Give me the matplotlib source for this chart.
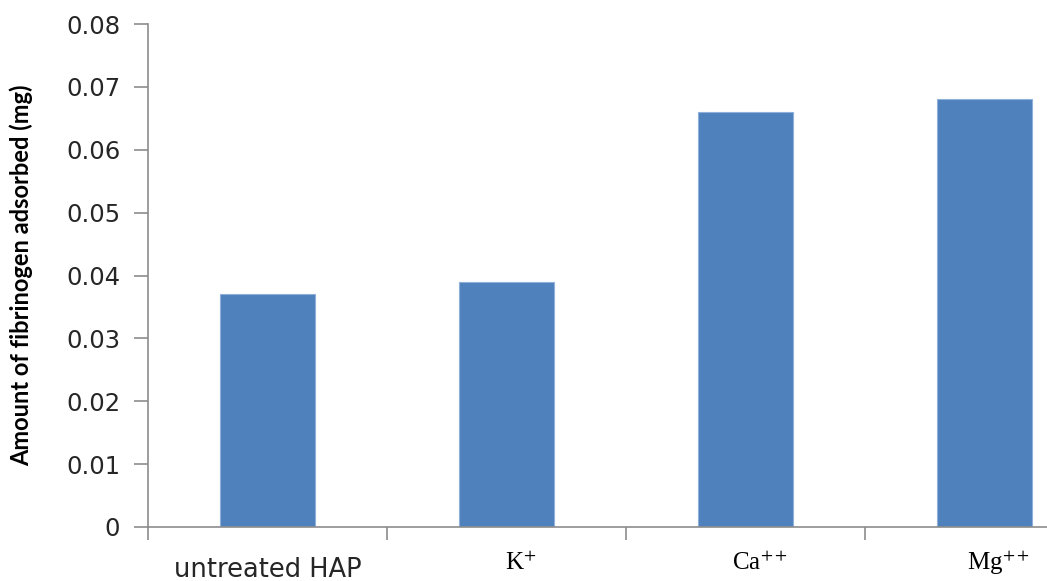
import matplotlib
matplotlib.use('Agg')
import matplotlib.pyplot as plt
import matplotlib.transforms as mtransforms

# adsorbed fibrinogen per surface treatment
categories = ['untreated HAP', 'K$^{+}$', 'Ca$^{++}$', 'Mg$^{++}$']
label_fonts = ['DejaVu Sans', 'Liberation Serif', 'Liberation Serif', 'Liberation Serif']
amounts = [0.037, 0.039, 0.066, 0.068]
yticks = [0, 0.01, 0.02, 0.03, 0.04, 0.05, 0.06, 0.07, 0.08]
ytick_labels = ['0', '0.01', '0.02', '0.03', '0.04', '0.05', '0.06', '0.07', '0.08']

plt.rcParams['mathtext.fontset'] = 'stix'

W, H = 1047, 581
fig = plt.figure(figsize=(W / 100, H / 100), dpi=100)
fig.patch.set_facecolor('white')

# plot area runs past the right edge of the canvas
x0, x1, y0, y1 = 148, 1104, 527, 24
ax = fig.add_axes([x0 / W, (H - y0) / H, (x1 - x0) / W, (y0 - y1) / H])

pos = list(range(len(categories)))
ax.bar(pos, amounts, width=0.4, color='#4F81BD', edgecolor='#8EB0DA', linewidth=0.8, zorder=2)

ax.set_xlim(-0.5, len(categories) - 0.5)
ax.set_ylim(0, 0.08)

axis_grey = '#8C8C8C'
for side in ['top', 'right']:
    ax.spines[side].set_visible(False)
for side in ['left', 'bottom']:
    ax.spines[side].set_color(axis_grey)
    ax.spines[side].set_linewidth(1.2)

ax.set_yticks(yticks)
ax.set_yticklabels(ytick_labels)
ax.tick_params(axis='y', length=10, width=1.2, color=axis_grey, pad=10,
               labelsize=17.5, labelcolor='#262626')
ax.set_xticks([p - 0.5 for p in pos] + [pos[-1] + 0.5])
ax.set_xticklabels([])
ax.tick_params(axis='x', length=9, width=1.2, color=axis_grey)

# category labels below the axis
trans = mtransforms.blended_transform_factory(ax.transData, fig.transFigure)
for p, name, fam in zip(pos, categories, label_fonts):
    if fam == 'DejaVu Sans':
        ax.text(p, (H - 577) / H, name, transform=trans, ha='center', va='baseline',
                fontsize=18.5, family=fam, color='#262626')
    else:
        ax.text(p + 0.06, (H - 570) / H, name, transform=trans, ha='center', va='baseline',
                fontsize=18, family=fam, color='#000000')

ax.set_ylabel('Amount of fibrinogen adsorbed (mg)', fontsize=17, family='Lato',
              fontweight='bold', color='#000000')
ax.yaxis.set_label_coords((33 - x0) / (x1 - x0), 0.5)

fig.savefig('out.png', dpi=100, facecolor='white')
